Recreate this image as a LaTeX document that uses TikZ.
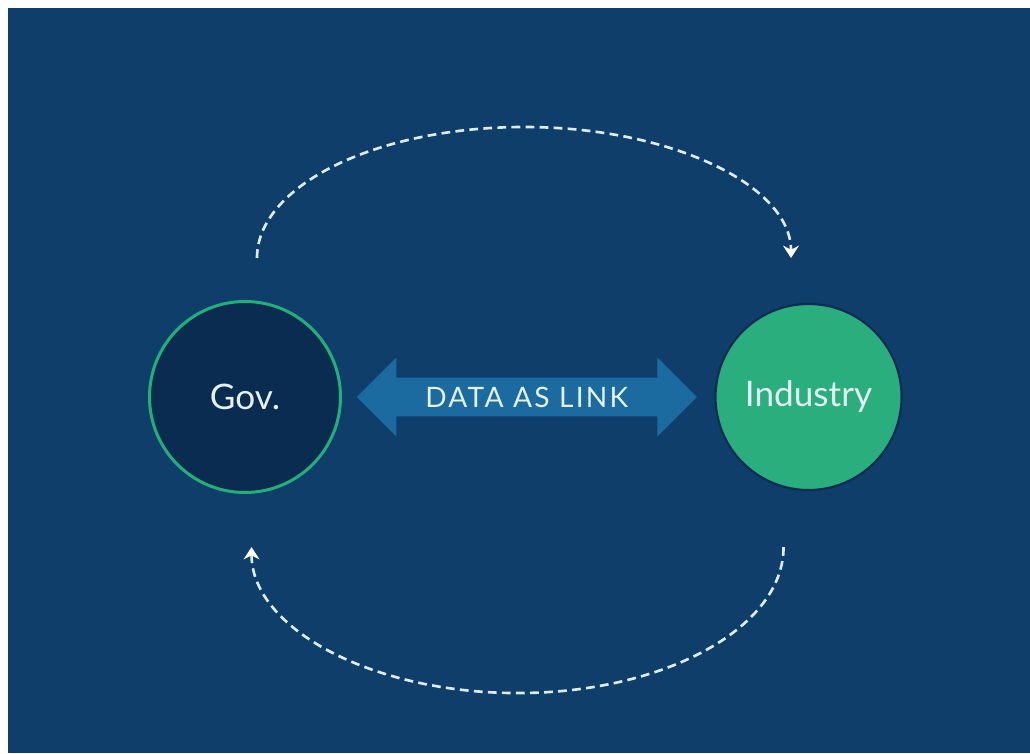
\documentclass[tikz,border=0pt]{standalone}
\usepackage{fontspec}
\setmainfont{Lato}
\usetikzlibrary{shapes, arrows, arrows.meta, positioning, calc}
\definecolor{bgblue}{RGB}{15,62,107}
\definecolor{govblue}{RGB}{10,44,80}
\definecolor{ringgreen}{RGB}{34,176,122}
\definecolor{indgreen}{RGB}{42,174,126}
\definecolor{linkblue}{RGB}{27,107,160}
\definecolor{dashwhite}{RGB}{220,236,245}
\definecolor{textwhite}{RGB}{228,240,242}

\begin{document}
\begin{tikzpicture}
    \tikzstyle{govcircle} = [circle, minimum size=3.82cm, inner sep=0pt, line width=1.7pt, draw=ringgreen, fill=govblue, text=textwhite, font=\fontsize{20}{24}\selectfont]
    \tikzstyle{indcircle} = [circle, minimum size=3.72cm, inner sep=0pt, line width=1.2pt, draw=govblue, fill=indgreen, text=textwhite, font=\fontsize{20}{24}\selectfont]
    \tikzstyle{linkarrow} = [double arrow, minimum height=6.8cm, minimum width=1.58cm, double arrow head extend=0.34cm, fill=linkblue, text=textwhite, font=\fontsize{16}{19}\selectfont\addfontfeature{LetterSpace=8}]
    \tikzstyle{flow} = [dashwhite, line width=1.5pt, dash pattern=on 5pt off 3pt, ->, >={Stealth[length=7pt, width=9pt, color=white]}]
    \fill [white] (0,0) rectangle (20.6,15.06);
    \fill [bgblue] (0.16,0) rectangle (20.6,14.9);
    \useasboundingbox (0,0) rectangle (20.6,15.06);
    \node (gov) [govcircle] at (4.9,7.12) {Gov.};
    \node (ind) [indcircle, right=7.45cm of gov] {Industry};
    \node (link) [linkarrow] at ($(gov)!.5!(ind)$) {DATA AS LINK};
    \coordinate (govtop) at ([shift={(0.24,0.84)}]gov.north);
    \coordinate (indbottom) at ([shift={(-0.5,-1.12)}]ind.south);
    \draw [flow] (govtop) arc [start angle=180, end angle=0, x radius=5.34cm, y radius=2.62cm];
    \draw [flow] (indbottom) arc [start angle=0, end angle=-180, x radius=5.32cm, y radius=2.92cm];
\end{tikzpicture}
\end{document}
